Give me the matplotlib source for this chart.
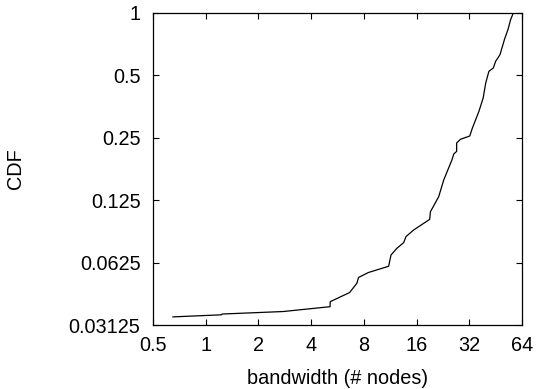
import matplotlib
matplotlib.use("Agg")
import matplotlib.pyplot as plt
from matplotlib.ticker import FixedLocator, FixedFormatter, NullLocator

plt.rcParams["font.family"] = ["Liberation Sans", "DejaVu Sans"]

# CDF of bandwidth
bandwidth = [0.65, 1.23, 1.24, 2.77, 5.13, 5.14, 6.63, 7.3, 7.46, 8.5, 11.08, 11.43,
             12.36, 13.5, 13.93, 15.4, 19.0, 19.2, 21.4, 22.9, 25.5, 26.1, 27.1, 27.1,
             28.5, 32.2, 33.3, 36.3, 38.4, 39.7, 41.4, 43.9, 45.2, 47.9, 50.9, 53.2,
             55.1, 57.1]
cdf = [0.0342, 0.0350, 0.0353, 0.0363, 0.0383, 0.0405, 0.0448, 0.0497, 0.053, 0.056,
       0.060, 0.068, 0.0733, 0.078, 0.0835, 0.0898, 0.101, 0.110, 0.130, 0.157, 0.196,
       0.209, 0.215, 0.236, 0.246, 0.255, 0.278, 0.335, 0.389, 0.459, 0.523, 0.543,
       0.584, 0.629, 0.749, 0.831, 0.929, 1.0]

x_ticks = [0.5, 1, 2, 4, 8, 16, 32, 64]
x_labels = ["0.5", "1", "2", "4", "8", "16", "32", "64"]
y_ticks = [0.03125, 0.0625, 0.125, 0.25, 0.5, 1]
y_labels = ["0.03125", "0.0625", "0.125", "0.25", "0.5", "1"]

fig = plt.figure(figsize=(5.36, 3.89), dpi=100)
ax = fig.add_axes([0.2854, 0.1645, 0.6885, 0.8021])

ax.plot(bandwidth, cdf, color="black", lw=0.9)

ax.set_xscale("log", base=2)
ax.set_yscale("log", base=2)
ax.set_xlim(0.5, 64)
ax.set_ylim(0.03125, 1)

ax.xaxis.set_major_locator(FixedLocator(x_ticks))
ax.xaxis.set_major_formatter(FixedFormatter(x_labels))
ax.xaxis.set_minor_locator(NullLocator())
ax.yaxis.set_major_locator(FixedLocator(y_ticks))
ax.yaxis.set_major_formatter(FixedFormatter(y_labels))
ax.yaxis.set_minor_locator(NullLocator())

ax.tick_params(axis="both", which="major", direction="in", length=4, width=0.8,
               top=True, right=True, labelsize=14.3)
ax.tick_params(axis="x", pad=8)
ax.tick_params(axis="y", pad=9)
for s in ax.spines.values():
    s.set_linewidth(0.9)

ax.set_xlabel("bandwidth (# nodes)", fontsize=14.3)
ax.set_ylabel("CDF", fontsize=14.3)
ax.xaxis.set_label_coords(0.5, -0.14)
ax.yaxis.set_label_coords(-0.346, 0.5)

fig.savefig("out.png", dpi=100)
